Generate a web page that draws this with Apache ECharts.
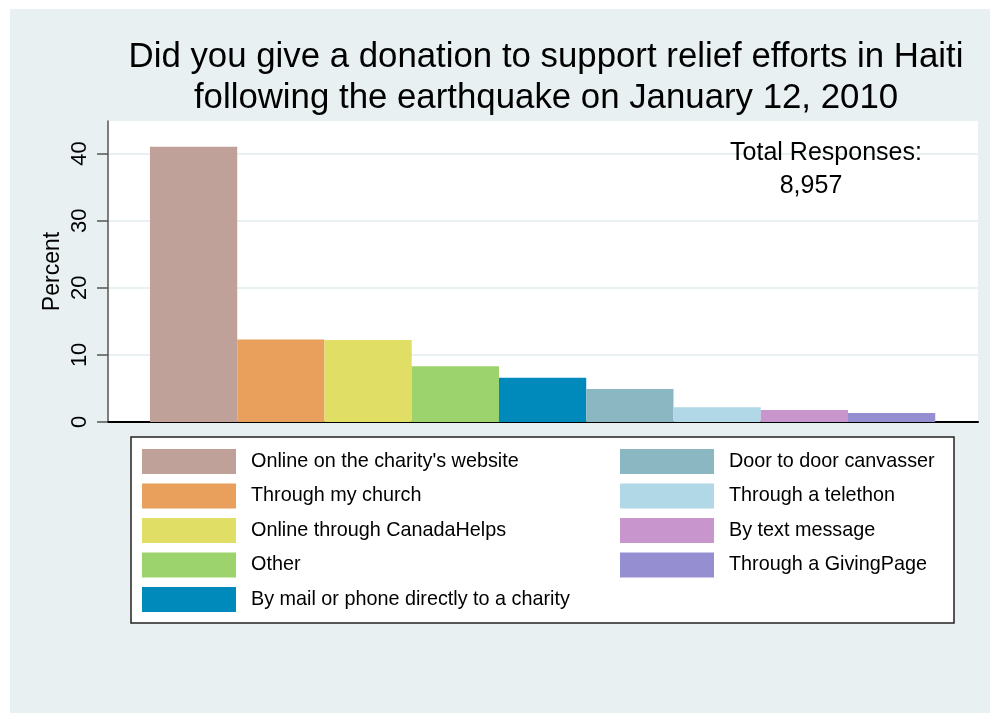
<!DOCTYPE html>
<html>
<head>
<meta charset="utf-8">
<script src="https://cdn.jsdelivr.net/npm/echarts@6/dist/echarts.min.js"></script>
<style>
  html, body { margin: 0; padding: 0; background: #ffffff; }
  #chart { width: 990px; height: 715px; }
</style>
</head>
<body>
<div id="chart"></div>
<script>
// Ways respondents gave to Haiti relief (percent of responses)
const categories = [
  "Online on the charity's website",
  "Through my church",
  "Online through CanadaHelps",
  "Other",
  "By mail or phone directly to a charity",
  "Door to door canvasser",
  "Through a telethon",
  "By text message",
  "Through a GivingPage"
];
const percents = [41.0, 12.3, 12.2, 8.3, 6.6, 4.9, 2.2, 1.8, 1.35];
const colors = [
  '#bfa19a', '#e8a05c', '#e0de65', '#9dd36c', '#008abc',
  '#8ab7c2', '#b0d8e6', '#c896cc', '#958fd2'
];
const yTicks = [0, 10, 20, 30, 40];
const totalResponses = '8,957';

const chart = echarts.init(document.getElementById('chart'));

const FONT = '"Liberation Sans", Arial, Helvetica, sans-serif';

const series = categories.map((name, i) => ({
  name: name,
  type: 'bar',
  data: [[i, percents[i]]],
  barWidth: '100%',
  barGap: '-100%',
  itemStyle: { color: colors[i] },
  emphasis: { disabled: true }
}));

const legendBase = {
  orient: 'vertical',
  top: 449,
  padding: 0,
  itemWidth: 94,
  itemHeight: 25,
  itemGap: 9.5,
  icon: 'rect',
  selectedMode: false,
  z: 5,
  textStyle: { fontFamily: FONT, fontSize: 19.8, color: '#000', padding: [0, 0, 0, 10] }
};

chart.setOption({
  animation: false,
  backgroundColor: '#ffffff',
  textStyle: { fontFamily: FONT },
  title: {
    text: 'Did you give a donation to support relief efforts in Haiti\nfollowing the earthquake on January 12, 2010',
    left: 541,
    top: 32,
    textAlign: 'center',
    textStyle: {
      fontFamily: FONT,
      fontSize: 34.8,
      fontWeight: 'normal',
      color: '#000',
      lineHeight: 41
    }
  },
  graphic: [
    {
      type: 'rect',
      z: -10,
      silent: true,
      shape: { x: 10, y: 9, width: 980, height: 704 },
      style: { fill: '#e8f0f2' }
    },
    {
      type: 'rect',
      z: 1,
      silent: true,
      shape: { x: 131, y: 437, width: 823, height: 186 },
      style: { fill: '#ffffff', stroke: '#222', lineWidth: 1.5 }
    },
    {
      type: 'text',
      z: 10,
      silent: true,
      x: 826, y: 153,
      style: {
        text: 'Total Responses:',
        font: '25px ' + FONT,
        fill: '#000',
        align: 'center',
        verticalAlign: 'middle'
      }
    },
    {
      type: 'text',
      z: 10,
      silent: true,
      x: 811, y: 186,
      style: {
        text: totalResponses,
        font: '25px ' + FONT,
        fill: '#000',
        align: 'center',
        verticalAlign: 'middle'
      }
    }
  ],
  legend: [
    Object.assign({}, legendBase, { data: categories.slice(0, 5), left: 142 }),
    Object.assign({}, legendBase, { data: categories.slice(5), left: 620 })
  ],
  grid: {
    left: 108,
    top: 121,
    right: 12,
    bottom: 293,
    show: true,
    backgroundColor: '#ffffff',
    borderWidth: 0
  },
  xAxis: {
    type: 'value',
    min: -0.981,
    max: 8.99,
    axisLine: { show: true, onZero: false, lineStyle: { color: '#000', width: 2 } },
    axisTick: { show: false },
    axisLabel: { show: false },
    splitLine: { show: false }
  },
  yAxis: {
    type: 'value',
    min: 0,
    max: 44.85,
    interval: 10,
    name: 'Percent',
    nameLocation: 'middle',
    nameGap: 44,
    nameMoveOverlap: false,
    nameTextStyle: { fontFamily: FONT, fontSize: 23, color: '#000' },
    axisLine: { show: true, onZero: false, lineStyle: { color: '#555', width: 1.5 } },
    axisTick: {
      show: true,
      length: 11,
      customValues: yTicks,
      lineStyle: { color: '#555', width: 1.5 }
    },
    axisLabel: {
      show: true,
      rotate: 90,
      margin: 17,
      customValues: yTicks,
      fontFamily: FONT,
      fontSize: 22,
      color: '#000'
    },
    splitLine: { show: true, lineStyle: { color: '#e8f0f2', width: 2 } }
  },
  series: series
});
</script>
</body>
</html>
